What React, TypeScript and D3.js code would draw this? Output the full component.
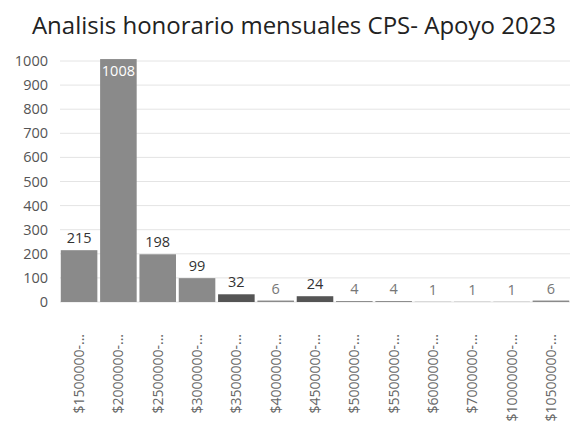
import React, { useRef, useEffect } from 'react';
import * as d3 from 'd3';

const categories = [
  '$1500000-...', '$2000000-...', '$2500000-...', '$3000000-...', '$3500000-...',
  '$4000000-...', '$4500000-...', '$5000000-...', '$5500000-...', '$6000000-...',
  '$7000000-...', '$10000000-...', '$10500000-...',
];
const values = [215, 1008, 198, 99, 32, 6, 24, 4, 4, 1, 1, 1, 6];
const yTicks = [0, 100, 200, 300, 400, 500, 600, 700, 800, 900, 1000];
const title = 'Analisis honorario mensuales CPS- Apoyo 2023';

export default function App() {
  const ref = useRef<SVGSVGElement>(null);

  useEffect(() => {
    if (!ref.current) return;
    const svg = d3.select(ref.current);
    svg.selectAll('*').remove();

    const width = 574;
    const height = 443;
    const margin = { top: 61, right: 4, bottom: 141, left: 60 };
    const font = "'Open Sans', sans-serif";

    svg.append('rect').attr('width', width).attr('height', height).attr('fill', '#fff');

    const x = d3.scaleBand<string>()
      .domain(categories)
      .range([margin.left, width - margin.right])
      .paddingInner(0.07)
      .paddingOuter(0.02);

    const y = d3.scaleLinear()
      .domain([0, 1000])
      .range([height - margin.bottom, margin.top]);

    // title
    svg.append('text')
      .attr('x', 294)
      .attr('y', 34)
      .attr('text-anchor', 'middle')
      .attr('font-family', font)
      .attr('font-size', 24)
      .attr('fill', '#222')
      .text(title);

    // grid
    svg.append('g')
      .selectAll('line')
      .data(yTicks)
      .enter()
      .append('line')
      .attr('x1', margin.left)
      .attr('x2', width - margin.right)
      .attr('y1', d => y(d))
      .attr('y2', d => y(d))
      .attr('stroke', '#e4e4e4')
      .attr('stroke-width', 1);

    // y axis labels
    svg.append('g')
      .selectAll('text')
      .data(yTicks)
      .enter()
      .append('text')
      .attr('x', 48)
      .attr('y', d => y(d) + 5)
      .attr('text-anchor', 'end')
      .attr('font-family', font)
      .attr('font-size', 14.5)
      .attr('fill', '#555')
      .text(d => d);

    // bars
    svg.append('g')
      .selectAll('rect')
      .data(values)
      .enter()
      .append('rect')
      .attr('x', (_, i) => x(categories[i]) as number)
      .attr('y', d => y(d))
      .attr('width', x.bandwidth())
      .attr('height', d => y(0) - y(d))
      .attr('fill', (d) => (d > 20 && d < 40 ? '#555' : '#8a8a8a'));

    // value labels
    svg.append('g')
      .selectAll('text')
      .data(values)
      .enter()
      .append('text')
      .attr('x', (_, i) => (x(categories[i]) as number) + x.bandwidth() / 2)
      .attr('y', d => (d > 1000 ? y(d) + 17 : y(d) - 7))
      .attr('text-anchor', 'middle')
      .attr('font-family', font)
      .attr('font-size', 14.5)
      .attr('fill', d => (d > 1000 ? '#fff' : d < 10 ? '#777' : '#333'))
      .text(d => d);

    // x axis labels
    svg.append('g')
      .selectAll('text')
      .data(categories)
      .enter()
      .append('text')
      .attr('transform', d => `translate(${(x(d) as number) + x.bandwidth() / 2 + 5},${height - margin.bottom + 32}) rotate(-90)`)
      .attr('text-anchor', 'end')
      .attr('font-family', font)
      .attr('font-size', 14)
      .attr('fill', '#666')
      .text(d => d);
  }, []);

  return (
    <svg
      ref={ref}
      width={574}
      height={443}
      style={{ position: 'absolute', left: 0, top: 0, display: 'block' }}
    />
  );
}
